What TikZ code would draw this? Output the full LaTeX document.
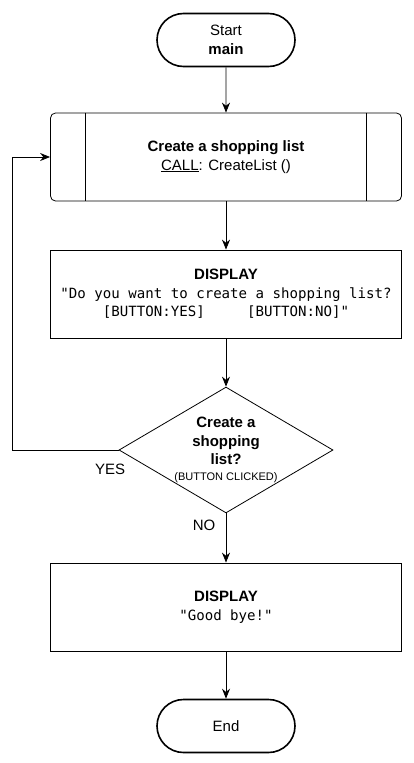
\documentclass[tikz,border=0pt]{standalone}
\usepackage{fontspec}
\setmainfont{Liberation Sans}
\setmonofont{DejaVu Sans Mono}
\usetikzlibrary{shapes.geometric,shapes.misc,arrows.meta,positioning}

\begin{document}
\begin{tikzpicture}[x=1pt,y=-1pt,on grid,auto,
    >={Stealth[length=10pt,width=8pt]},
    every node/.style={font=\fontsize{15}{18.5}\selectfont},
    term/.style={rounded rectangle,draw,line width=1.6pt,minimum width=138pt,minimum height=53pt,inner sep=0pt,align=center},
    proc/.style={rectangle,draw,line width=0.8pt,minimum width=351pt,minimum height=88pt,inner sep=0pt,align=center},
    subr/.style={proc,rounded corners=5pt},
    decide/.style={diamond,draw,line width=0.8pt,aspect=1.7,minimum width=213pt,minimum height=125pt,inner sep=0pt,align=center}]
    \useasboundingbox (0,0) rectangle (413,763);

    \node[term]   (start)  at (226,40)           {Start\\\textbf{main}};
    \node[subr]   (create) [below=117pt of start] {\textbf{Create a shopping list}\\\underline{CALL}: CreateList ()};
    \node[proc]   (ask)    [below=137pt of create] {\textbf{DISPLAY}\\{\fontsize{14.1}{20}\ttfamily "Do you want to create a shopping list?}\\{\fontsize{14.1}{20}\ttfamily [BUTTON:YES]\phantom{xxxxx}[BUTTON:NO]"}};
    \node[decide] (choice) [below=156pt of ask]    {\textbf{Create a}\\\textbf{shopping}\\\textbf{list?}\\[-3pt]{\fontsize{11}{12}\selectfont (BUTTON CLICKED)}};
    \node[proc]   (bye)    [below=157pt of choice] {\textbf{DISPLAY}\\{\fontsize{14.1}{20}\ttfamily "Good bye!"}};
    \node[term]   (stop)   [below=119pt of bye]    {End};

    % subroutine side bars
    \draw[line width=0.8pt] ([xshift=35pt]create.north west) -- ([xshift=35pt]create.south west);
    \draw[line width=0.8pt] ([xshift=-36pt]create.north east) -- ([xshift=-36pt]create.south east);

    \coordinate (back) at ([xshift=-106pt]choice.west);

    \path[->,line width=0.8pt] (start) edge (create)
              (create) edge (ask)
              (ask) edge (choice)
              (choice) edge node[pos=0.25,left=7pt] {NO} (bye)
              (bye) edge (stop);
    \draw[->,line width=0.8pt] (choice.west) -- node[pos=0.08,below=10pt] {YES} (back) |- (create.west);
\end{tikzpicture}
\end{document}
